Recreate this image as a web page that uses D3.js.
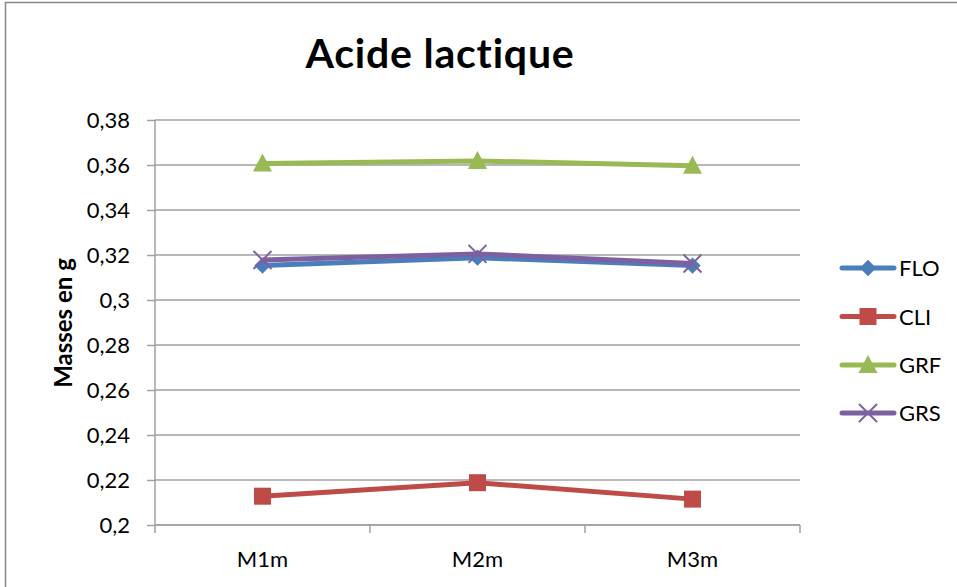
<!DOCTYPE html>
<html><head><meta charset="utf-8">
<script src="https://cdn.jsdelivr.net/npm/d3@7"></script>
<style>body{margin:0;background:#fff}svg{display:block}</style>
</head><body>
<svg id="c" width="957" height="587"></svg>
<script>
const categories = ["M1m", "M2m", "M3m"];
const seriesNames = ["FLO", "CLI", "GRF", "GRS"];
const FLO = [0.3153, 0.3188, 0.3153];
const CLI = [0.2128, 0.2188, 0.2115];
const GRF = [0.3607, 0.3618, 0.3597];
const GRS = [0.3178, 0.3205, 0.3162];
const yTicks = [0.2, 0.22, 0.24, 0.26, 0.28, 0.3, 0.32, 0.34, 0.36, 0.38];
const colors = {FLO:"#4a7ebb", CLI:"#be4b48", GRF:"#98b954", GRS:"#7d60a0"};
const markers = {FLO:"diamond", CLI:"square", GRF:"triangle", GRS:"cross"};
const values = {FLO, CLI, GRF, GRS};

const svg = d3.select("#c");
const font = "Lato, 'Open Sans', sans-serif";
const fs = 22;
// outer frame
svg.append("rect").attr("x",5.5).attr("y",2.5).attr("width",1000).attr("height",700)
  .attr("fill","none").attr("stroke","#888").attr("stroke-width",1.5);

const L=155, R=800, T=120, B=525;
const x = d3.scaleBand().domain(categories).range([L,R]);
const y = d3.scaleLinear().domain([0.2,0.38]).range([B,T]);

// gridlines
svg.append("g").selectAll("line").data(yTicks).join("line")
  .attr("x1",L).attr("x2",R).attr("y1",d=>y(d)).attr("y2",d=>y(d))
  .attr("stroke","#a0a0a0").attr("stroke-width",1.5);

// y axis
const ya = svg.append("g").attr("transform",`translate(${L},0)`)
  .call(d3.axisLeft(y).tickValues(yTicks).tickSize(8).tickPadding(17)
    .tickFormat(d=>d3.format(".2~f")(d).replace(".",",")));
ya.selectAll("path,line").attr("stroke","#a0a0a0").attr("stroke-width",1.5);
ya.select("path").attr("d",`M0,${T}V${B}`);
ya.selectAll("text").attr("font-family",font).attr("font-size",fs).attr("fill","#000");

// x axis
const xa = svg.append("g").attr("transform",`translate(0,${B})`)
  .call(d3.axisBottom(x).tickSize(0).tickPadding(26));
xa.select("path").attr("stroke","#a0a0a0").attr("stroke-width",1.5).attr("d",`M${L},0H${R}`);
xa.selectAll("text").attr("font-family",font).attr("font-size",fs).attr("fill","#000");
const bounds = [L, ...categories.map(c=>x(c)+x.bandwidth())];
xa.selectAll(".bt").data(bounds).join("line").attr("class","bt")
  .attr("x1",d=>d).attr("x2",d=>d).attr("y1",0).attr("y2",8)
  .attr("stroke","#a0a0a0").attr("stroke-width",1.5);

// title
svg.append("text").attr("x",440).attr("y",68).attr("text-anchor","middle")
  .attr("font-family",font).attr("font-weight","bold").attr("font-size",41)
  .attr("letter-spacing",0.8).text("Acide lactique");
svg.append("text").attr("transform","translate(72,323) rotate(-90)").attr("text-anchor","middle")
  .attr("font-family",font).attr("font-weight","bold").attr("font-size",24).text("Masses en g");

function drawMarker(g, type, cx, cy, color){
  if(type==="diamond"){
    g.append("path").attr("d",d3.symbol(d3.symbolDiamond2,170)()).attr("transform",`translate(${cx},${cy})`).attr("fill",color);
  } else if(type==="square"){
    g.append("rect").attr("x",cx-8.5).attr("y",cy-8.5).attr("width",17).attr("height",17).attr("fill",color);
  } else if(type==="triangle"){
    g.append("path").attr("d",`M${cx},${cy-10}L${cx+9.5},${cy+8}L${cx-9.5},${cy+8}Z`).attr("fill",color);
  } else {
    g.append("path").attr("d",`M${cx-9},${cy-9}L${cx+9},${cy+9}M${cx+9},${cy-9}L${cx-9},${cy+9}`)
      .attr("stroke",color).attr("stroke-width",2).attr("fill","none");
  }
}

const line = d3.line().x((d,i)=>x(categories[i])+x.bandwidth()/2).y(d=>y(d));
seriesNames.forEach(s=>{
  const g = svg.append("g");
  g.append("path").attr("d",line(values[s])).attr("fill","none").attr("stroke",colors[s])
    .attr("stroke-width",5).attr("stroke-linejoin","round").attr("stroke-linecap","round");
  values[s].forEach((v,i)=>drawMarker(g, markers[s], x(categories[i])+x.bandwidth()/2, y(v), colors[s]));
});

// legend
const legY = [268, 316.5, 365, 413];
seriesNames.forEach((s,i)=>{
  const g = svg.append("g");
  g.append("line").attr("x1",842).attr("x2",894).attr("y1",legY[i]).attr("y2",legY[i])
    .attr("stroke",colors[s]).attr("stroke-width",5).attr("stroke-linecap","round");
  drawMarker(g, markers[s], 868, legY[i], colors[s]);
  g.append("text").attr("x",899).attr("y",legY[i]+8).attr("font-family",font).attr("font-size",fs).text(s);
});
</script>
</body></html>
